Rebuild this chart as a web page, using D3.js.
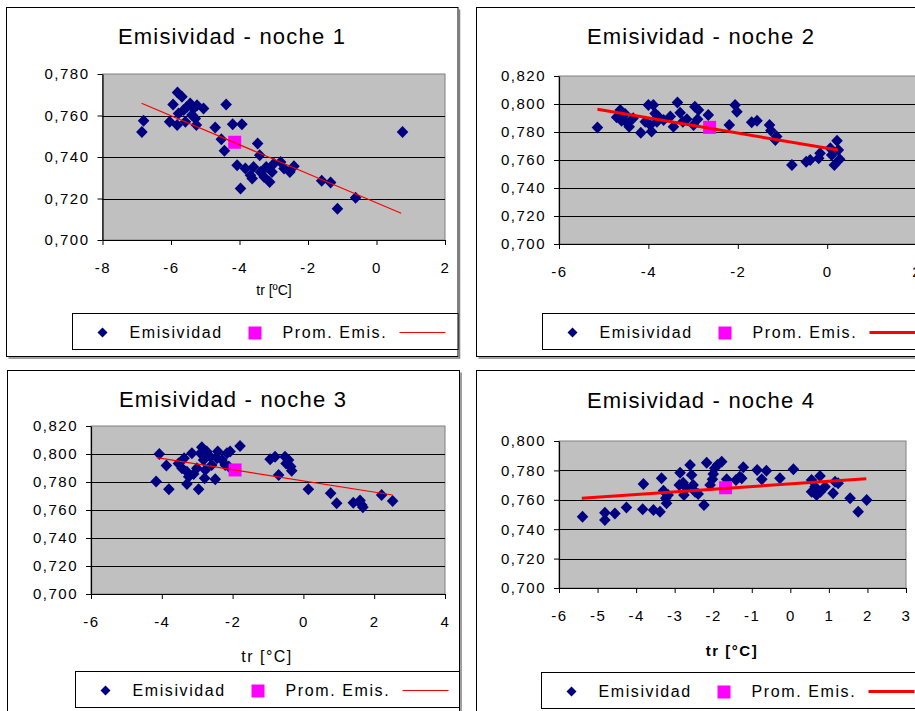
<!DOCTYPE html>
<html>
<head>
<meta charset="utf-8">
<script src="https://cdn.jsdelivr.net/npm/d3@7"></script>
<style>
  body { margin: 0; background: #fff; }
  svg { display: block; }
</style>
</head>
<body>
<div id="chart"></div>
<script>
/* Emisividad por noche - four Excel style scatter charts */

// scatter points [tr, emisividad]
var noche1 = [
  [-6.85, 0.752], [-6.80, 0.7575], [-6.04, 0.757], [-5.94, 0.7653], [-5.81, 0.7711],
  [-5.82, 0.7554], [-5.68, 0.769], [-5.78, 0.761], [-5.63, 0.7626], [-5.53, 0.7642],
  [-5.44, 0.7658], [-5.34, 0.7634], [-5.39, 0.7602], [-5.24, 0.765], [-5.29, 0.7586],
  [-5.26, 0.7554], [-5.05, 0.7634], [-5.58, 0.757], [-4.39, 0.7653], [-4.71, 0.7542],
  [-4.53, 0.7486], [-4.44, 0.743], [-4.20, 0.7558], [-3.93, 0.7558], [-4.07, 0.736],
  [-3.97, 0.7248], [-3.83, 0.7344], [-3.68, 0.7312], [-3.59, 0.7352], [-3.63, 0.7296],
  [-3.47, 0.7465], [-3.41, 0.7409], [-3.39, 0.7328], [-3.28, 0.7304], [-3.22, 0.7352],
  [-3.12, 0.728], [-3.05, 0.7328], [-3.00, 0.7368], [-2.80, 0.7376], [-2.70, 0.7344],
  [-2.53, 0.7328], [-2.41, 0.7355], [-1.60, 0.7285], [-1.34, 0.7277], [-1.14, 0.7151],
  [-0.61, 0.7204], [0.76, 0.752]
];
var noche2 = [
  [-5.14, 0.7833], [-4.63, 0.7957], [-4.71, 0.7905], [-4.60, 0.7881], [-4.52, 0.7929],
  [-4.47, 0.7862], [-4.43, 0.7838], [-4.34, 0.7898], [-4.17, 0.7795], [-4.07, 0.7874],
  [-4.00, 0.7993], [-3.89, 0.7993], [-3.93, 0.7803], [-3.96, 0.785], [-3.85, 0.7933],
  [-3.81, 0.7874], [-3.78, 0.791], [-3.66, 0.7886], [-3.51, 0.791], [-3.44, 0.7838],
  [-3.35, 0.801], [-3.29, 0.7938], [-3.23, 0.7874], [-3.14, 0.7891], [-2.99, 0.785],
  [-2.96, 0.7981], [-2.88, 0.7957], [-2.90, 0.7891], [-2.66, 0.7922], [-2.19, 0.785],
  [-2.06, 0.7993], [-2.02, 0.7945], [-1.69, 0.7869], [-1.57, 0.7881], [-1.29, 0.785],
  [-1.26, 0.781], [-1.16, 0.7743], [-1.13, 0.7767], [-0.79, 0.7565], [-0.47, 0.7588],
  [-0.38, 0.76], [-0.19, 0.7612], [-0.16, 0.7648], [0.07, 0.7684], [0.10, 0.7636],
  [0.16, 0.7565], [0.22, 0.7738], [0.25, 0.7672], [0.28, 0.7605]
];
var noche3 = [
  [-4.07, 0.800], [-4.16, 0.7803], [-3.87, 0.7917], [-3.80, 0.7748], [-3.53, 0.7933],
  [-3.43, 0.7898], [-3.37, 0.7969], [-3.29, 0.7874], [-3.24, 0.7838], [-3.29, 0.7786],
  [-3.15, 0.8005], [-3.10, 0.7857], [-3.01, 0.7898], [-2.96, 0.7748], [-2.91, 0.8005],
  [-2.87, 0.8048], [-2.82, 0.7957], [-2.77, 0.7886], [-2.79, 0.7826], [-2.73, 0.8017],
  [-2.63, 0.7981], [-2.59, 0.7922], [-2.49, 0.7819], [-2.44, 0.7969], [-2.42, 0.8017],
  [-2.30, 0.7957], [-2.21, 0.7922], [-2.16, 0.8005], [-2.07, 0.8017], [-2.11, 0.791],
  [-1.79, 0.8057], [-0.94, 0.7962], [-0.80, 0.7981], [-0.70, 0.785], [-0.52, 0.7981],
  [-0.49, 0.7933], [-0.42, 0.7957], [-0.36, 0.791], [-0.33, 0.7881], [0.14, 0.7748],
  [0.77, 0.7719], [0.94, 0.7648], [1.41, 0.7652], [1.60, 0.7667], [1.65, 0.7636],
  [1.68, 0.762], [2.21, 0.7707], [2.52, 0.7664]
];
var noche4 = [
  [-5.39, 0.7485], [-4.81, 0.7512], [-4.81, 0.7462], [-4.55, 0.7507], [-4.25, 0.7548],
  [-3.81, 0.7707], [-3.83, 0.7535], [-3.55, 0.753], [-3.38, 0.7519], [-3.34, 0.7746],
  [-3.29, 0.7662], [-3.23, 0.761], [-3.21, 0.7576], [-3.17, 0.7632], [-2.86, 0.7784],
  [-2.88, 0.770], [-2.78, 0.7716], [-2.76, 0.7632], [-2.69, 0.7678], [-2.60, 0.7837],
  [-2.56, 0.7768], [-2.52, 0.770], [-2.47, 0.7655], [-2.39, 0.7639], [-2.24, 0.7564],
  [-2.17, 0.7852], [-2.08, 0.770], [-2.02, 0.7739], [-2.00, 0.7775], [-1.96, 0.7814],
  [-1.89, 0.7837], [-1.78, 0.7859], [-1.65, 0.7739], [-1.41, 0.7734], [-1.31, 0.7757],
  [-1.22, 0.7821], [-1.26, 0.7746], [-0.86, 0.7803], [-0.74, 0.7739], [-0.62, 0.7798],
  [-0.27, 0.7746], [0.08, 0.7807], [0.55, 0.7734], [0.55, 0.7655], [0.64, 0.7689],
  [0.68, 0.7632], [0.77, 0.7762], [0.78, 0.7655], [0.90, 0.7689], [1.11, 0.7644],
  [1.16, 0.7723], [1.24, 0.7712], [1.55, 0.761], [1.76, 0.7519], [1.98, 0.7598]
];

// "Prom. Emis." points
var prom1 = [-4.14, 0.7471];
var prom2 = [-2.63, 0.7833];
var prom3 = [-1.93, 0.7886];
var prom4 = [-1.68, 0.7682];

// linear trend end points
var trend1 = [[-6.86, 0.7659], [0.72, 0.7129]];
var trend2 = [[-5.14, 0.7962], [0.24, 0.7671]];
var trend3 = [[-4.14, 0.7974], [2.52, 0.7707]];
var trend4 = [[-5.41, 0.7610], [1.97, 0.7744]];

// ticks
var xTicks1 = [-8, -6, -4, -2, 0, 2];
var xTicks2 = [-6, -4, -2, 0, 2];
var xTicks3 = [-6, -4, -2, 0, 2, 4];
var xTicks4 = [-6, -5, -4, -3, -2, -1, 0, 1, 2, 3];
var yTicks1 = [0.70, 0.72, 0.74, 0.76, 0.78];
var yTicks2 = [0.70, 0.72, 0.74, 0.76, 0.78, 0.80, 0.82];
var yTicks4 = [0.70, 0.72, 0.74, 0.76, 0.78, 0.80];

var titles = ["Emisividad - noche 1", "Emisividad - noche 2", "Emisividad - noche 3", "Emisividad - noche 4"];
var legendNames = ["Emisividad", "Prom. Emis."];

var FONT = "'Liberation Sans', Arial, sans-serif";
var NAVY = "#000080", MAGENTA = "#ff00ff", RED = "#ff0000";

var panels = [
  { pts: noche1, prom: prom1, trend: trend1, xt: xTicks1, yt: yTicks1, title: titles[0],
    left: 102.5, right: 445, top: 74, bottom: 240,
    frame: [6.5, 7.5, 451.5, 349], legend: [72.5, 313.5, 385.5, 36],
    titleX: 232, titleY: 44, trendW: 1.2,
    xLabel: "tr [ºC]", xLabelX: 274, xLabelY: 295, xLabelSize: 14, xLabelBold: false, xLabelSpacing: 0 },
  { pts: noche2, prom: prom2, trend: trend2, xt: xTicks2, yt: yTicks2, title: titles[1],
    left: 559, right: 916.6, top: 76, bottom: 244,
    frame: [476.5, 7.5, 460, 349], legend: [542.5, 313.5, 400, 36],
    titleX: 701, titleY: 44, trendW: 3,
    xLabel: null },
  { pts: noche3, prom: prom3, trend: trend3, xt: xTicks3, yt: yTicks2, title: titles[2],
    left: 91, right: 445, top: 426, bottom: 594,
    frame: [7.5, 370.5, 452, 360], legend: [75.5, 671.5, 384, 36],
    titleX: 233, titleY: 407, trendW: 1.2,
    xLabel: "tr [°C]", xLabelX: 267, xLabelY: 662, xLabelSize: 16, xLabelBold: false, xLabelSpacing: 1.5 },
  { pts: noche4, prom: prom4, trend: trend4, xt: xTicks4, yt: yTicks4, title: titles[3],
    left: 559, right: 906, top: 441, bottom: 588,
    frame: [476.5, 370.5, 460, 360], legend: [541.5, 672.5, 400, 36],
    titleX: 701, titleY: 408, trendW: 3,
    xLabel: "tr [°C]", xLabelX: 732, xLabelY: 656, xLabelSize: 15, xLabelBold: true, xLabelSpacing: 1.5 }
];

var svg = d3.select("#chart").append("svg")
  .attr("width", 915)
  .attr("height", 711)
  .style("font-family", FONT);

var diamond = "M0,-6L5.8,0L0,6L-5.8,0Z";
var fmtY = function(d) { return d3.format(".3f")(d).replace(".", ","); };

panels.forEach(function(p) {
  var g = svg.append("g");
  var f = p.frame;

  // chart frame with a little shadow
  g.append("rect")
    .attr("x", f[0]).attr("y", f[1]).attr("width", f[2]).attr("height", f[3])
    .attr("fill", "#fff").attr("stroke", "#000").attr("stroke-width", 1);
  g.append("path")
    .attr("d", "M" + (f[0] + 2) + "," + (f[1] + f[3] + 1.5) + "H" + (f[0] + f[2] + 1.5) + "V" + (f[1] + 2))
    .attr("fill", "none").attr("stroke", "#808080").attr("stroke-width", 1.5);

  var x = d3.scaleLinear().domain(d3.extent(p.xt)).range([p.left, p.right]);
  var y = d3.scaleLinear().domain(d3.extent(p.yt)).range([p.bottom, p.top]);

  // plot area
  g.append("rect")
    .attr("x", p.left).attr("y", p.top)
    .attr("width", p.right - p.left).attr("height", p.bottom - p.top)
    .attr("fill", "#c0c0c0").attr("stroke", "#808080").attr("stroke-width", 1);

  g.append("g").selectAll("line")
    .data(p.yt.slice(1, -1))
    .join("line")
    .attr("x1", p.left).attr("x2", p.right)
    .attr("y1", function(d) { return Math.round(y(d)) + 0.5; })
    .attr("y2", function(d) { return Math.round(y(d)) + 0.5; })
    .attr("stroke", "#000").attr("stroke-width", 1);

  // axes
  var ay = g.append("g")
    .attr("transform", "translate(" + p.left + ",0)")
    .call(d3.axisLeft(y).tickValues(p.yt).tickFormat(fmtY).tickSize(5).tickSizeOuter(0).tickPadding(8));
  var ax = g.append("g")
    .attr("transform", "translate(0," + p.bottom + ")")
    .call(d3.axisBottom(x).tickValues(p.xt).tickFormat(function(d) { return d; }).tickSize(5).tickSizeOuter(0).tickPadding(17));
  [ax, ay].forEach(function(a) {
    a.selectAll(".domain").attr("stroke", "#000").attr("stroke-width", 1.2);
    a.selectAll(".tick line").attr("stroke", "#000");
    a.selectAll("text")
      .attr("fill", "#000")
      .style("font-family", FONT)
      .style("font-size", "15px")
      .style("letter-spacing", "1.5px");
  });

  // markers
  g.append("g").selectAll("path")
    .data(p.pts)
    .join("path")
    .attr("d", diamond)
    .attr("transform", function(d) { return "translate(" + x(d[0]) + "," + y(d[1]) + ")"; })
    .attr("fill", NAVY);

  g.append("rect")
    .datum(p.prom)
    .attr("x", function(d) { return x(d[0]) - 6.5; })
    .attr("y", function(d) { return y(d[1]) - 6.5; })
    .attr("width", 13).attr("height", 13)
    .attr("fill", MAGENTA);

  g.append("path")
    .datum(p.trend)
    .attr("d", d3.line().x(function(d) { return x(d[0]); }).y(function(d) { return y(d[1]); }))
    .attr("fill", "none")
    .attr("stroke", RED)
    .attr("stroke-width", p.trendW);

  // title
  g.append("text")
    .attr("x", p.titleX).attr("y", p.titleY)
    .attr("text-anchor", "middle")
    .style("font-size", "22px")
    .style("letter-spacing", "1.2px")
    .text(p.title);

  if (p.xLabel) {
    g.append("text")
      .attr("x", p.xLabelX).attr("y", p.xLabelY)
      .attr("text-anchor", "middle")
      .style("font-size", p.xLabelSize + "px")
      .style("font-weight", p.xLabelBold ? "bold" : "normal")
      .style("letter-spacing", p.xLabelSpacing + "px")
      .text(p.xLabel);
  }

  // legend
  var l = p.legend;
  var lg = g.append("g").attr("transform", "translate(" + l[0] + "," + l[1] + ")");
  lg.append("rect")
    .attr("width", l[2]).attr("height", l[3])
    .attr("fill", "#fff").attr("stroke", "#000").attr("stroke-width", 1);
  lg.append("path").attr("d", "M0,-5L5,0L0,5L-5,0Z")
    .attr("transform", "translate(30,19)").attr("fill", NAVY);
  lg.append("text").attr("x", 57).attr("y", 24)
    .style("font-size", "16px").style("letter-spacing", "1.6px")
    .text(legendNames[0]);
  lg.append("rect").attr("x", 176).attr("y", 13).attr("width", 13).attr("height", 13)
    .attr("fill", MAGENTA);
  lg.append("text").attr("x", 210).attr("y", 24)
    .style("font-size", "16px").style("letter-spacing", "1.6px")
    .text(legendNames[1]);
  lg.append("line").attr("x1", 327).attr("x2", 373).attr("y1", 19).attr("y2", 19)
    .attr("stroke", RED).attr("stroke-width", p.trendW);
});
</script>
</body>
</html>
